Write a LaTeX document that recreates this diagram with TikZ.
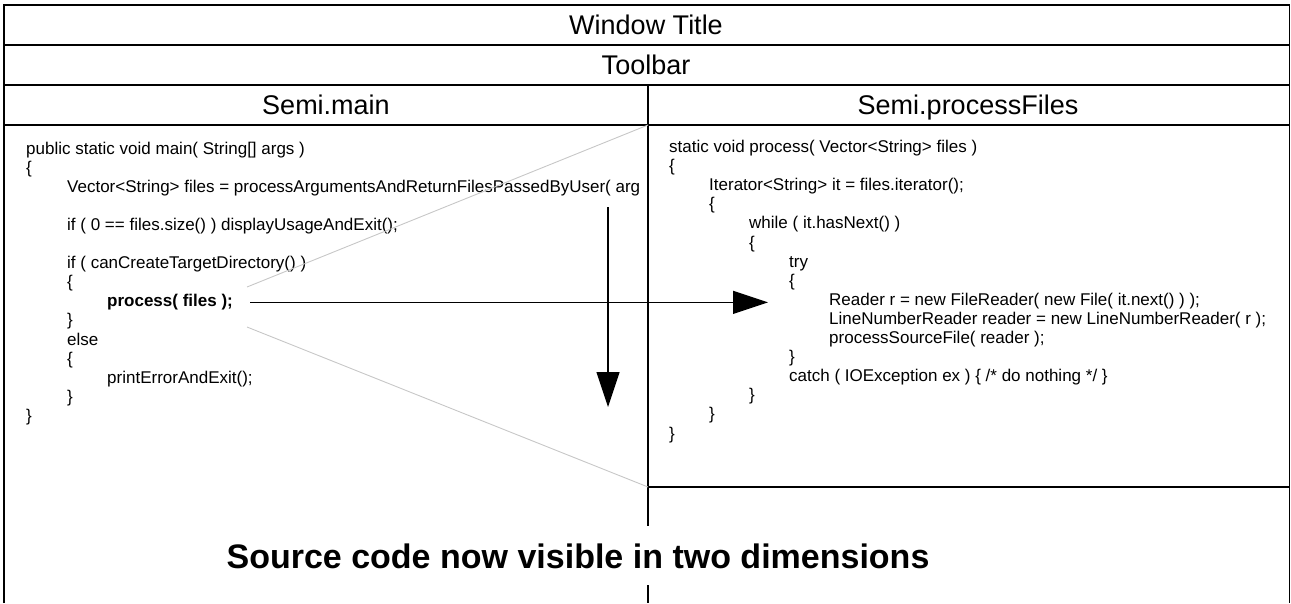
\documentclass[tikz,border=0pt]{standalone}
\usepackage{fontspec}
\setmainfont{Liberation Sans}
\usetikzlibrary{arrows.meta}
\begin{document}
\begin{tikzpicture}[x=1pt,y=-1pt,
  frame/.style={line width=1.5pt, black},
  zoomline/.style={line width=0.9pt, color=black!22},
  bigarrow/.style={line width=1.2pt, -{Triangle[length=35pt,width=23pt]}},
  code/.style={anchor=base west, inner sep=0pt, font=\fontsize{17}{19}\selectfont},
  head/.style={anchor=base, inner sep=0pt, font=\fontsize{27}{30}\selectfont},
  caption/.style={anchor=base, fill=white, inner xsep=2pt, inner ysep=17pt, font=\fontsize{34}{38}\selectfont\bfseries}]
\useasboundingbox (0,0) rectangle (1291,603);
% frame
\draw[frame] (4,603) -- (4,5) -- (1289.5,5) -- (1289.5,603);
\draw[frame] (4,45) -- (1289.5,45);
\draw[frame] (4,85) -- (1289.5,85);
\draw[frame] (4,125) -- (1289.5,125);
\draw[frame] (648,85) -- (648,603);
\draw[frame] (648,487) -- (1289.5,487);
% headers
\node[head] (title) at (646,34.5) {Window Title};
\node[head] (toolbar) at (646,74.5) {Toolbar};
\node[head] (hmain) at (326,114.5) {Semi.main};
\node[head] (hproc) at (968,114.5) {Semi.processFiles};
% left code
\begin{scope}
\clip (4,125) rectangle (646,487);
\node[code] (l0) at (26,154) {public static void main( String[] args )};
\node[code] (l1) at (26,173.1) {\{};
\node[code] (l2) at (67,192.2) {Vector<String> files = processArgumentsAndReturnFilesPassedByUser( arg};
\node[code] (l4) at (67,230.4) {if ( 0 == files.size() ) displayUsageAndExit();};
\node[code] (l6) at (67,268.6) {if ( canCreateTargetDirectory() )};
\node[code] (l7) at (67,287.7) {\{};
\node[code,font=\fontsize{17}{19}\selectfont\bfseries] (process) at (107,306.8) {process( files );};
\node[code] (l9) at (67,325.9) {\}};
\node[code] (l10) at (67,345) {else};
\node[code] (l11) at (67,364.1) {\{};
\node[code] (l12) at (107,383.2) {printErrorAndExit();};
\node[code] (l13) at (67,402.3) {\}};
\node[code] (l14) at (26,421.4) {\}};
\end{scope}
% right code
\node[code] (r0) at (669,152.5) {static void process( Vector<String> files )};
\node[code] (r1) at (669,171.6) {\{};
\node[code] (r2) at (709,190.7) {Iterator<String> it = files.iterator();};
\node[code] (r3) at (709,209.8) {\{};
\node[code] (r4) at (749,228.9) {while ( it.hasNext() )};
\node[code] (r5) at (749,248) {\{};
\node[code] (r6) at (789,267.1) {try};
\node[code] (r7) at (789,286.2) {\{};
\node[code] (r8) at (829,305.3) {Reader r = new FileReader( new File( it.next() ) );};
\node[code] (r9) at (829,324.4) {LineNumberReader reader = new LineNumberReader( r );};
\node[code] (r10) at (829,343.5) {processSourceFile( reader );};
\node[code] (r11) at (789,362.6) {\}};
\node[code] (r12) at (789,381.7) {catch ( IOException ex ) \{ /* do nothing */ \}};
\node[code] (r13) at (749,400.8) {\}};
\node[code] (r14) at (709,419.9) {\}};
\node[code] (r15) at (669,439) {\}};
% zoom lines
\coordinate (zTopA) at (247,287);
\coordinate (zTopB) at (648,125);
\coordinate (zBotA) at (247,327);
\coordinate (zBotB) at (648,487);
\draw[zoomline] (zTopA) -- (zTopB);
\draw[zoomline] (zBotA) -- (zBotB);
% arrows
\coordinate (hEnd) at (768,303);
\draw[bigarrow] ([xshift=17pt]process.east) -- (process.east -| hEnd);
\coordinate (vStart) at (608,207);
\coordinate (vEnd) at (608,407);
\draw[bigarrow] (vStart) -- (vEnd);
% caption
\node[caption] (cap) at (578,568) {Source code now visible in two dimensions};
\end{tikzpicture}
\end{document}
